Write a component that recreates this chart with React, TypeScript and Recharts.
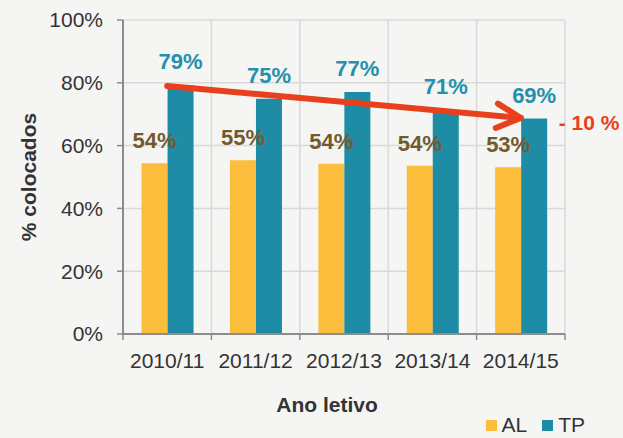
import { BarChart, Bar, XAxis, YAxis, CartesianGrid, Legend, LabelList, ReferenceLine } from "recharts"

const years = ["2010/11", "2011/12", "2012/13", "2013/14", "2014/15"]
const alValues = [54.4, 55.3, 54.2, 53.6, 53.1]
const tpValues = [79.2, 74.9, 77.1, 71.2, 68.6]
const yTicks = [0, 20, 40, 60, 80, 100]
const trendStart = { x: "2010/11", y: 79 }
const trendEnd = { x: "2014/15", y: 68.8 }
const trendLabel = "- 10 %"

const data = years.map((year, i) => ({ year, AL: alValues[i], TP: tpValues[i] }))

const W = 623
const H = 438
const margin = { top: 20, right: 58, bottom: 0, left: 40 }
const yAxisWidth = 83
const plotWidth = W - margin.left - yAxisWidth - margin.right
const band = plotWidth / years.length

const FONT = "Liberation Sans, Arial, sans-serif"
const TEXT = "#333333"
const AXIS = "#8c8c8c"
const GRID = "#d9d9d9"
const AL_COLOR = "#fbbd3b"
const TP_COLOR = "#1f8ca6"
const RED = "#e8401c"

const XTick = (props: any) => {
  const { x, y, payload, index } = props
  return (
    <g>
      <line x1={x - band / 2} x2={x - band / 2} y1={y - 8} y2={y - 2} stroke={AXIS} strokeWidth={1.5} />
      {index === years.length - 1 && (
        <line x1={x + band / 2} x2={x + band / 2} y1={y - 8} y2={y - 2} stroke={AXIS} strokeWidth={1.5} />
      )}
      <text x={x} y={y + 26} textAnchor="middle" fontSize={21} fill={TEXT} fontFamily={FONT}>
        {payload.value}
      </text>
    </g>
  )
}

const TrendArrow = (props: any) => {
  const { x1, y1, x2, y2 } = props
  const ang = Math.atan2(y2 - y1, x2 - x1)
  const len = 27
  const spread = (27 * Math.PI) / 180
  const ax = x2 - len * Math.cos(ang - spread)
  const ay = y2 - len * Math.sin(ang - spread)
  const bx = x2 - len * Math.cos(ang + spread)
  const by = y2 - len * Math.sin(ang + spread)
  return (
    <g>
      <line x1={x1} y1={y1} x2={x2} y2={y2} stroke={RED} strokeWidth={6} strokeLinecap="round" />
      <polyline
        points={`${ax},${ay} ${x2},${y2} ${bx},${by}`}
        fill="none"
        stroke={RED}
        strokeWidth={6}
        strokeLinecap="round"
        strokeLinejoin="round"
      />
      <text x={x2 + 38} y={y2 + 12} fontSize={21} fontWeight="bold" fill={RED} fontFamily={FONT}>
        {trendLabel}
      </text>
    </g>
  )
}

const LegendContent = () => (
  <div style={{ display: "flex", justifyContent: "flex-end", alignItems: "center", paddingRight: 38, height: 26, fontFamily: FONT, fontSize: 21, color: TEXT }}>
    <span style={{ width: 11, height: 11, background: AL_COLOR, display: "inline-block", marginRight: 4 }} />
    <span style={{ marginRight: 15 }}>AL</span>
    <span style={{ width: 11, height: 11, background: TP_COLOR, display: "inline-block", marginRight: 5 }} />
    <span>TP</span>
  </div>
)

export default function App() {
  return (
    <div style={{ position: "fixed", left: 0, top: 0, width: W, height: H, background: "#f5f5f3" }}>
      <BarChart width={W} height={H} data={data} margin={margin} barCategoryGap="21%" barGap={0}>
        <CartesianGrid
          stroke={GRID}
          strokeWidth={1.5}
          verticalCoordinatesGenerator={({ offset }: any) =>
            years.map((_, i) => offset.left + ((i + 1) * offset.width) / years.length)
          }
        />
        <XAxis
          dataKey="year"
          height={78}
          tickLine={false}
          axisLine={{ stroke: AXIS, strokeWidth: 2 }}
          tick={<XTick />}
          interval={0}
          label={{ value: "Ano letivo", position: "insideBottom", offset: 0, dx: -17, fontSize: 21, fontWeight: "bold", fill: TEXT, fontFamily: FONT }}
        />
        <YAxis
          width={yAxisWidth}
          domain={[0, 100]}
          ticks={yTicks}
          tickFormatter={(v: number) => `${v}%`}
          tick={{ fontSize: 21, fill: TEXT, fontFamily: FONT }}
          tickSize={6}
          tickMargin={14}
          tickLine={{ stroke: AXIS, strokeWidth: 1.5 }}
          axisLine={{ stroke: AXIS, strokeWidth: 2 }}
          label={{ value: "% colocados", angle: -90, position: "center", dx: -53, fontSize: 21, fontWeight: "bold", fill: TEXT, fontFamily: FONT }}
        />
        <Legend verticalAlign="bottom" content={<LegendContent />} wrapperStyle={{ left: 0, width: W }} />
        <Bar dataKey="AL" fill={AL_COLOR} isAnimationActive={false}>
          <LabelList
            dataKey="AL"
            position="top"
            offset={15}
            formatter={(v: number) => `${Math.round(v)}%`}
            style={{ fontSize: 22, fontWeight: "bold", fill: "#735a2e", fontFamily: FONT }}
          />
        </Bar>
        <Bar dataKey="TP" fill={TP_COLOR} isAnimationActive={false}>
          <LabelList
            dataKey="TP"
            position="top"
            offset={16}
            formatter={(v: number) => `${Math.round(v)}%`}
            style={{ fontSize: 22, fontWeight: "bold", fill: "#2590ab", fontFamily: FONT }}
          />
        </Bar>
        <ReferenceLine
          segment={[trendStart, trendEnd]}
          stroke={RED}
          ifOverflow="visible"
          shape={<TrendArrow />}
        />
      </BarChart>
    </div>
  )
}
